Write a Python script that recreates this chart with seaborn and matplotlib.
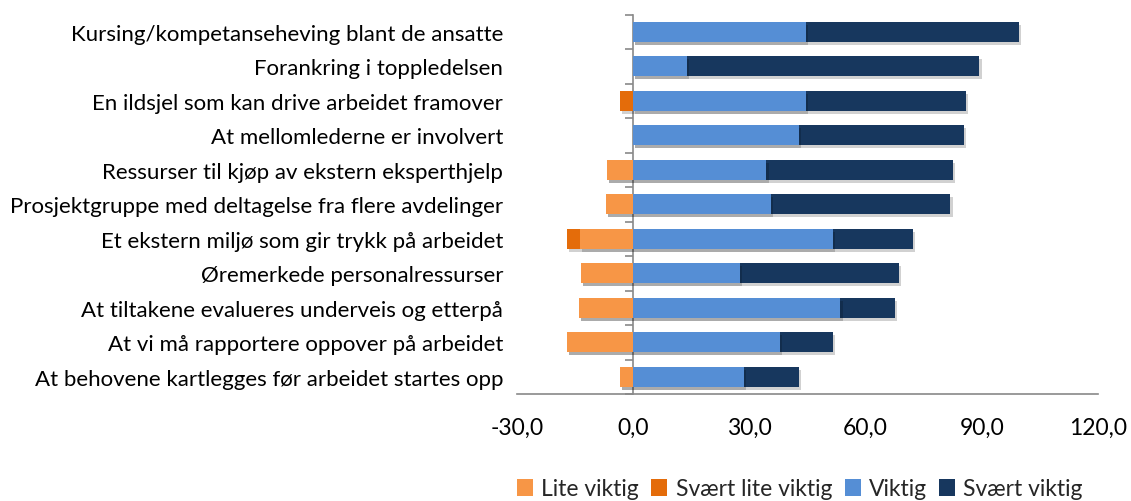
import pandas as pd
import matplotlib
matplotlib.use("Agg")
import matplotlib.pyplot as plt
import matplotlib.patheffects as pe
import seaborn as sns
from matplotlib.patches import Patch

# Data (percent)
categories = [
    "Kursing/kompetanseheving blant de ansatte",
    "Forankring i toppledelsen",
    "En ildsjel som kan drive arbeidet framover",
    "At mellomlederne er involvert",
    "Ressurser til kjøp av ekstern eksperthjelp",
    "Prosjektgruppe med deltagelse fra flere avdelinger",
    "Et ekstern miljø som gir trykk på arbeidet",
    "Øremerkede personalressurser",
    "At tiltakene evalueres underveis og etterpå",
    "At vi må rapportere oppover på arbeidet",
    "At behovene kartlegges før arbeidet startes opp",
]
lite_viktig = [0.0, 0.0, 0.0, 0.0, -6.8, -7.0, -13.7, -13.6, -14.1, -17.1, -3.5]
svaert_lite_viktig = [0.0, 0.0, -3.4, 0.0, 0.0, 0.0, -3.4, 0.0, 0.0, 0.0, 0.0]
viktig = [44.7, 13.8, 44.7, 42.8, 34.4, 35.6, 51.6, 27.6, 53.5, 37.9, 28.5]
svaert_viktig = [55.0, 75.6, 41.3, 42.6, 48.1, 46.3, 20.6, 41.1, 14.1, 13.7, 14.2]

series_names = ["Lite viktig", "Svært lite viktig", "Viktig", "Svært viktig"]
colors = ["#F79646", "#E46C0A", "#558ED5", "#17375E"]
x_ticks = [-30, 0, 30, 60, 90, 120]

df = pd.DataFrame({
    "kategori": categories,
    "lite": lite_viktig,
    "svaert_lite": svaert_lite_viktig,
    "viktig": viktig,
    "svaert": svaert_viktig,
})
# cumulative ends so the stacked pieces can be drawn back to front
df["neg_total"] = df["lite"] + df["svaert_lite"]
df["pos_total"] = df["viktig"] + df["svaert"]

sns.set_style("white")
plt.rcParams["font.family"] = ["Lato", "DejaVu Sans"]

fig = plt.figure(figsize=(11.31, 5.02), dpi=100)
ax = fig.add_axes([517 / 1131, 1 - 395 / 502, 581 / 1131, 379.3 / 502])

bar_w = 0.58
shadow = [pe.SimplePatchShadow(offset=(1.5, -2), alpha=0.18, shadow_rgbFace="black"), pe.Normal()]
for col, c in [("neg_total", colors[1]), ("lite", colors[0]),
               ("pos_total", colors[3]), ("viktig", colors[2])]:
    sns.barplot(data=df, x=col, y="kategori", orient="h", color=c,
                width=bar_w, saturation=1, edgecolor="none", ax=ax)

for bar in ax.patches:
    if bar.get_width() != 0:
        bar.set_path_effects(shadow)

ax.set_xlim(-30, 120)
ax.set_ylim(len(categories) - 0.5, -0.5)
ax.set_xlabel("")
ax.set_ylabel("")

ax.set_xticks(x_ticks)
ax.set_xticklabels([f"{v:.1f}".replace(".", ",") for v in x_ticks])
ax.tick_params(axis="x", direction="out", length=5.8, width=1.2, color="#898989",
               labelsize=16.5, pad=11, labelcolor="black")
ax.tick_params(axis="y", length=0, labelsize=16, pad=10, labelcolor="black")

for side in ["top", "right", "left"]:
    ax.spines[side].set_visible(False)
ax.spines["bottom"].set_color("#898989")
ax.spines["bottom"].set_linewidth(1.2)

# vertical category axis sitting at x = 0
zero_pos = (0 - (-30)) / 150
sec = ax.secondary_yaxis(zero_pos)
sec.set_yticks([i - 0.5 for i in range(len(categories) + 1)])
sec.set_yticklabels([])
sec.tick_params(axis="y", direction="out", length=5.8, width=1.2, color="#898989")
sec.spines["left"].set_color("#898989")
sec.spines["left"].set_linewidth(1.2)

handles = [Patch(facecolor=c, edgecolor="none") for c in colors]
fig.legend(handles, series_names, loc="center", bbox_to_anchor=(800 / 1131, 1 - 490 / 502),
           ncol=4, frameon=False, fontsize=16.5, handlelength=0.7, handleheight=0.7,
           handletextpad=0.35, columnspacing=0.55, borderaxespad=0)

fig.savefig("out.png", dpi=100)
